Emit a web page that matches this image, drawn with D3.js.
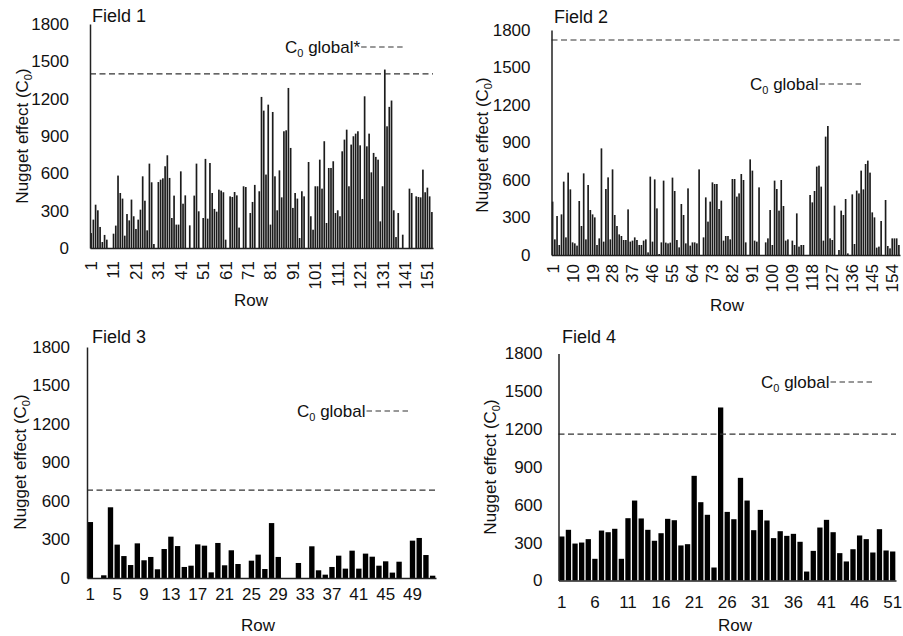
<!DOCTYPE html>
<html>
<head>
<meta charset="utf-8">
<script src="https://cdn.jsdelivr.net/npm/d3@7"></script>
<style>
  body { margin: 0; background: #fff; }
  svg { display: block; }
  text { font-family: "Liberation Sans", Arial, sans-serif; fill: #111; }
</style>
</head>
<body>
<svg id="chart" width="903" height="636"></svg>
<script>
// Nugget effect (C0) per row, four fields
const yTicks = [0, 300, 600, 900, 1200, 1500, 1800];

const field1 = [
  120, 228, 348, 303, 169, 48, 105, 67, 0, 0,
  115, 180, 582, 442, 397, 99, 273, 222, 389, 255,
  153, 228, 308, 576, 380, 142, 678, 528, 32, 0,
  530, 549, 560, 657, 745, 563, 241, 421, 188, 188,
  616, 356, 423, 0, 182, 0, 421, 678, 295, 0,
  241, 716, 236, 683, 442, 314, 292, 469, 461, 448,
  67, 0, 415, 410, 450, 423, 164, 0, 496, 490,
  0, 281, 370, 507, 0, 456, 1214, 1104, 590, 1152,
  188, 1093, 576, 303, 624, 407, 938, 946, 1286, 804,
  322, 442, 397, 80, 456, 415, 0, 691, 255, 147,
  496, 496, 710, 477, 858, 201, 643, 643, 697, 281,
  303, 255, 777, 871, 951, 496, 831, 898, 919, 938,
  825, 394, 1219, 817, 919, 608, 764, 732, 710, 214,
  496, 1434, 978, 1134, 1185, 303, 88, 281, 0, 107,
  0, 0, 477, 442, 0, 415, 410, 407, 630, 448,
  485, 415, 289
];

const field2 = [
  427, 125, 312, 80, 325, 587, 141, 659, 525, 101,
  93, 75, 432, 232, 653, 125, 560, 360, 325, 301,
  80, 133, 853, 107, 528, 621, 125, 685, 320, 232,
  165, 152, 120, 120, 365, 107, 115, 141, 120, 80,
  80, 115, 125, 21, 627, 107, 605, 373, 8, 101,
  595, 99, 93, 99, 619, 512, 120, 61, 408, 320,
  93, 533, 75, 101, 101, 93, 685, 0, 141, 461,
  267, 427, 581, 568, 568, 368, 435, 115, 152, 152,
  125, 608, 608, 467, 493, 648, 600, 101, 0, 765,
  675, 115, 107, 541, 0, 0, 101, 133, 360, 80,
  595, 528, 355, 600, 392, 115, 125, 0, 115, 80,
  333, 67, 80, 80, 0, 0, 480, 421, 512, 707,
  715, 547, 115, 947, 1032, 133, 120, 395, 0, 40,
  355, 320, 448, 13, 0, 485, 88, 515, 493, 675,
  525, 728, 755, 659, 341, 301, 59, 67, 272, 0,
  440, 72, 53, 133, 133, 133, 80
];

const field3 = [
  436, 0, 21, 551, 260, 171, 101, 270, 138, 164,
  68, 226, 322, 249, 86, 96, 262, 252, 44, 273,
  99, 216, 109, 0, 135, 182, 70, 428, 164, 0,
  0, 117, 0, 247, 60, 26, 86, 174, 73, 213,
  73, 190, 166, 96, 130, 42, 127, 0, 291, 312,
  179, 18
];

const field4 = [
  349, 402, 293, 301, 328, 172, 396, 383, 410, 172,
  494, 634, 492, 402, 315, 375, 489, 478, 278, 288,
  830, 621, 521, 103, 1372, 544, 486, 814, 634, 399,
  560, 476, 336, 391, 354, 370, 307, 71, 235, 420,
  481, 383, 217, 151, 248, 357, 328, 222, 407, 238,
  230
];

const globalC0 = [1400, 1720, 685, 1160];
const fieldNames = ["Field 1", "Field 2", "Field 3", "Field 4"];
const legendSuffix = ["global*", "global", "global", "global"];
const tickStep = [10, 9, 4, 5];
const seriesList = [field1, field2, field3, field4];

// Panel geometry
const layout = [
  { x0: 90, x1: 433, yBase: 248, yTop: 24, rotate: true, pad: 0.25, fill: "#1c1c1c",
    title: [92, 22], legend: [285, 53], yTitle: [22, 136], row: [251, 306], tickGap: 21, xLab: 13 },
  { x0: 551.5, x1: 900, yBase: 255, yTop: 30, rotate: true, pad: 0.25, fill: "#1c1c1c",
    title: [554, 23], legend: [750, 90], yTitle: [482, 145], row: [727, 311], tickGap: 21, xLab: 9 },
  { x0: 87, x1: 436, yBase: 578, yTop: 347, rotate: false, pad: 0.2, fill: "#000",
    title: [92, 343], legend: [297, 417], yTitle: [20, 462], row: [258, 631], tickGap: 17, xLab: 10 },
  { x0: 558.5, x1: 896, yBase: 580.5, yTop: 353.5, rotate: false, pad: 0.2, fill: "#000",
    title: [562, 343], legend: [761, 388], yTitle: [490, 467], row: [735, 631], tickGap: 16, xLab: 15 }
];

const svg = d3.select("#chart");
const FS = 17;

seriesList.forEach((values, k) => {
  const L = layout[k];
  const rows = values.map((_, i) => i + 1);
  const x = d3.scaleBand().domain(rows).range([L.x0, L.x1]).paddingInner(L.pad).paddingOuter(L.pad / 2);
  const y = d3.scaleLinear().domain([0, 1800]).range([L.yBase, L.yTop]);
  const g = svg.append("g");

  // bars
  g.append("g").selectAll("rect").data(values).join("rect")
    .attr("x", (d, i) => x(rows[i]))
    .attr("width", x.bandwidth())
    .attr("y", d => y(d))
    .attr("height", d => y(0) - y(d))
    .attr("fill", L.fill);

  // global nugget line
  g.append("line")
    .attr("x1", L.x0).attr("x2", L.x1)
    .attr("y1", y(globalC0[k])).attr("y2", y(globalC0[k]))
    .attr("stroke", "#333").attr("stroke-width", 1.2)
    .attr("stroke-dasharray", "6,3.5");

  // y axis
  const yAxis = g.append("g").attr("transform", `translate(${L.x0},0)`)
    .call(d3.axisLeft(y).tickValues(yTicks).tickSize(0).tickPadding(L.tickGap).tickFormat(d3.format("d")));
  yAxis.select(".domain").attr("stroke", "#222").attr("stroke-width", 1.5);
  yAxis.selectAll("text").attr("font-size", FS).attr("font-family", "Liberation Sans, Arial, sans-serif").attr("fill", "#111");

  // x axis
  const shown = rows.filter((r, i) => i % tickStep[k] === 0);
  const xAxis = g.append("g").attr("transform", `translate(0,${L.yBase})`)
    .call(d3.axisBottom(x).tickValues(shown).tickSize(0).tickSizeOuter(0));
  xAxis.select(".domain").attr("stroke", "#222").attr("stroke-width", 1.5);
  const xt = xAxis.selectAll("text").attr("font-size", FS)
    .attr("font-family", "Liberation Sans, Arial, sans-serif").attr("fill", "#111");
  if (L.rotate) {
    xt.attr("transform", "rotate(-90)")
      .attr("x", -L.xLab).attr("y", 0).attr("dy", "0.35em")
      .style("text-anchor", "end");
  } else {
    xt.attr("y", L.xLab).attr("dy", "0.71em");
  }

  // field title
  g.append("text").attr("x", L.title[0]).attr("y", L.title[1])
    .attr("font-size", 18).text(fieldNames[k]);

  // legend entry
  const lg = g.append("text").attr("x", L.legend[0]).attr("y", L.legend[1]).attr("font-size", FS);
  lg.append("tspan").text("C");
  lg.append("tspan").attr("font-size", 11).attr("dy", 4).text("0");
  lg.append("tspan").attr("dy", -4).text(" " + legendSuffix[k]);
  const lgEnd = L.legend[0] + lg.node().getComputedTextLength() + 1;
  g.append("line")
    .attr("x1", lgEnd).attr("x2", lgEnd + 45)
    .attr("y1", L.legend[1] - 6).attr("y2", L.legend[1] - 6)
    .attr("stroke", "#333").attr("stroke-width", 1.2)
    .attr("stroke-dasharray", "5.5,3.5");

  // y axis title
  const yt = g.append("text")
    .attr("transform", `translate(${L.yTitle[0]},${L.yTitle[1]}) rotate(-90)`)
    .attr("text-anchor", "middle").attr("dy", "0.35em").attr("font-size", FS);
  yt.append("tspan").text("Nugget effect (C");
  yt.append("tspan").attr("font-size", 11).attr("dy", 4).text("0");
  yt.append("tspan").attr("dy", -4).text(")");

  // x axis title
  g.append("text").attr("x", L.row[0]).attr("y", L.row[1])
    .attr("text-anchor", "middle").attr("font-size", FS).text("Row");
});
</script>
</body>
</html>
